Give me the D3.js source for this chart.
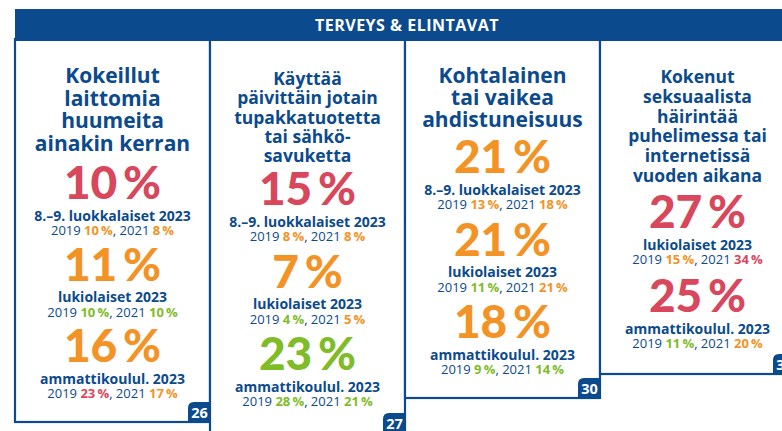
<!DOCTYPE html>
<html>
<head>
<meta charset="utf-8">
<script src="https://cdn.jsdelivr.net/npm/d3@7"></script>
<style>
  body { margin: 0; background: #fff; }
  svg { display: block; font-family: "Open Sans", Lato, sans-serif; }
</style>
</head>
<body>
<svg width="782" height="431"></svg>
<script>
var heading = "TERVEYS & ELINTAVAT";
var titles = [
  ["Kokeillut", "laittomia", "huumeita", "ainakin kerran"],
  ["Käyttää", "päivittäin jotain", "tupakkatuotetta", "tai sähkö-", "savuketta"],
  ["Kohtalainen", "tai vaikea", "ahdistuneisuus"],
  ["Kokenut", "seksuaalista", "häirintää", "puhelimessa tai", "internetissä", "vuoden aikana"]
];
var pages = ["26", "27", "30", "31"];
var groups = [
  ["8.–9. luokkalaiset 2023", "lukiolaiset 2023", "ammattikoulul. 2023"],
  ["8.–9. luokkalaiset 2023", "lukiolaiset 2023", "ammattikoulul. 2023"],
  ["8.–9. luokkalaiset 2023", "lukiolaiset 2023", "ammattikoulul. 2023"],
  ["lukiolaiset 2023", "ammattikoulul. 2023"]
];
var values2023 = [[10, 11, 16], [15, 7, 23], [21, 21, 18], [27, 25]];
var level2023  = [["r", "o", "o"], ["r", "o", "g"], ["o", "o", "o"], ["r", "r"]];
var values2019 = [[10, 10, 23], [8, 4, 28], [13, 11, 9], [15, 11]];
var level2019  = [["o", "g", "r"], ["o", "g", "g"], ["o", "g", "g"], ["o", "g"]];
var values2021 = [[8, 10, 17], [8, 5, 21], [18, 21, 14], [34, 20]];
var level2021  = [["o", "g", "o"], ["o", "o", "g"], ["o", "o", "g"], ["r", "o"]];

// ---- layout ----
var blue = "#0b4a8c";
var colour = d3.scaleOrdinal().domain(["r", "o", "g"]).range(["#d9475c", "#f39325", "#7fbc28"]);

var svg = d3.select("svg");
var x = d3.scaleBand().domain(d3.range(4)).range([15, 795]);
var panelTop = 41;
var bottoms = [422, 433, 398, 374];
var titleSize = [21, 17.5, 21, 17.5];
var titleBase = [83, 85, 83, 83];
var titleLead = [22.5, 19.3, 22, 19.8];
var bigBase = [199, 205, 173, 228];
var pitch = [81.5, 82.5, 82.5, 84];

function pct(v) { return v + "\u2009%"; }

// panels (draw in order so shared borders overlap)
var panel = svg.selectAll("g.panel")
  .data(d3.range(4))
  .enter().append("g")
    .attr("class", "panel");

panel.append("rect")
    .attr("x", function(i) { return x(i); })
    .attr("y", panelTop - 2)
    .attr("width", x.bandwidth())
    .attr("height", function(i) { return bottoms[i] - panelTop + 2; })
    .attr("fill", "#fff")
    .attr("stroke", blue)
    .attr("stroke-width", 2.2);

// page badges
panel.append("path")
    .attr("d", function(i) {
      var r = x(i) + x.bandwidth() + 1, b = bottoms[i] + 1, w = 23, h = 21, c = 6;
      return "M" + (r - w) + "," + b + "V" + (b - h + c) + "Q" + (r - w) + "," + (b - h) + " " + (r - w + c) + "," + (b - h) +
        "H" + r + "V" + b + "Z";
    })
    .attr("fill", blue);
panel.append("text")
    .attr("x", function(i) { return x(i) + x.bandwidth() - 10.5; })
    .attr("y", function(i) { return bottoms[i] - 4; })
    .attr("text-anchor", "middle")
    .attr("fill", "#fff")
    .attr("font-weight", 700)
    .attr("font-size", 14.5)
    .text(function(i) { return pages[i]; });

// header band
svg.append("rect")
    .attr("x", 15).attr("y", 9)
    .attr("width", 780).attr("height", 32)
    .attr("fill", blue);
svg.append("text")
    .attr("x", 407).attr("y", 30.5)
    .attr("text-anchor", "middle")
    .attr("fill", "#fff")
    .attr("font-weight", 700)
    .attr("font-size", 16)
    .attr("letter-spacing", 0.5)
    .text(heading);

// titles and figures
panel.each(function(i) {
  var g = d3.select(this), cx = x(i) + x.bandwidth() / 2;

  g.selectAll("text.title")
    .data(titles[i])
    .enter().append("text")
      .attr("class", "title")
      .attr("x", cx)
      .attr("y", function(d, k) { return titleBase[i] + k * titleLead[i]; })
      .attr("text-anchor", "middle")
      .attr("fill", blue)
      .attr("font-weight", 700)
      .attr("font-size", titleSize[i])
      .text(function(d) { return d; });

  var block = g.selectAll("g.block")
    .data(groups[i])
    .enter().append("g")
      .attr("class", "block")
      .attr("transform", function(d, k) { return "translate(" + cx + "," + (bigBase[i] + k * pitch[i]) + ")"; });

  block.append("text")
      .attr("text-anchor", "middle")
      .attr("fill", function(d, k) { return colour(level2023[i][k]); })
      .attr("font-family", "Lato, sans-serif")
      .attr("font-weight", 900)
      .attr("font-size", 46)
      .text(function(d, k) { return pct(values2023[i][k]); });

  block.append("text")
      .attr("y", 21.5)
      .attr("text-anchor", "middle")
      .attr("fill", blue)
      .attr("font-weight", 700)
      .attr("font-size", 14)
      .text(function(d) { return d; });

  var info = block.append("text")
      .attr("y", 36)
      .attr("text-anchor", "middle")
      .attr("fill", blue)
      .attr("font-size", 13);
  info.append("tspan").text("2019 ");
  info.append("tspan")
      .attr("font-weight", 700)
      .attr("fill", function(d, k) { return colour(level2019[i][k]); })
      .text(function(d, k) { return pct(values2019[i][k]); });
  info.append("tspan").text(", 2021 ");
  info.append("tspan")
      .attr("font-weight", 700)
      .attr("fill", function(d, k) { return colour(level2021[i][k]); })
      .text(function(d, k) { return pct(values2021[i][k]); });
});
</script>
</body>
</html>
